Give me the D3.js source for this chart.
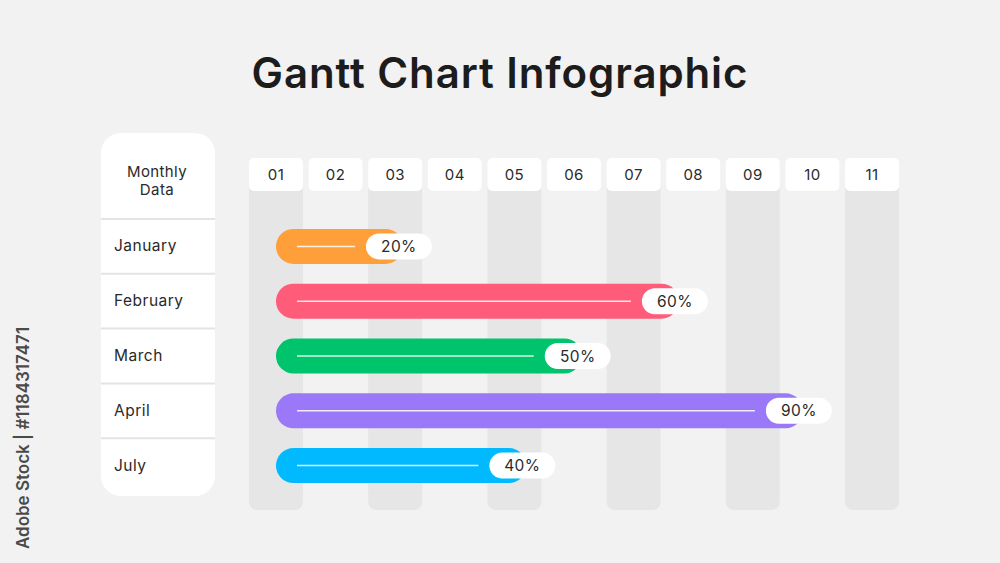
<!DOCTYPE html>
<html>
<head>
<meta charset="utf-8">
<script src="https://cdn.jsdelivr.net/npm/d3@7"></script>
<style>
  html, body { margin: 0; padding: 0; background: #f2f2f2; }
  svg { display: block; font-family: "Inter", "Noto Sans", sans-serif; }
</style>
</head>
<body>
<div id="chart"></div>
<script>
// columns across the top
const months = ["01", "02", "03", "04", "05", "06", "07", "08", "09", "10", "11"];

// rows
const tasks = ["January", "February", "March", "April", "July"];
const percents = [20, 60, 50, 90, 40];
// where each bar ends, in column units (bars start at column 1)
const startMonth = [1, 1, 1, 1, 1];
const endMonth = [3.13, 7.76, 6.13, 9.84, 5.2];
const colors = ["#ff9f3a", "#ff5c79", "#00c46b", "#9a78f8", "#00b9ff"];

const W = 1000, H = 563;

const svg = d3.select("#chart")
    .append("svg")
    .attr("width", W)
    .attr("height", H);

svg.append("rect")
    .attr("width", W)
    .attr("height", H)
    .attr("fill", "#f2f2f2");

// title
svg.append("text")
    .attr("x", 500)
    .attr("y", 88)
    .attr("text-anchor", "middle")
    .attr("font-size", 42)
    .attr("font-weight", 600)
    .attr("letter-spacing", 0.9)
    .attr("fill", "#1c1c1c")
    .text("Gantt Chart Infographic");

// vertical stock label on the left
svg.append("text")
    .attr("transform", "translate(29,438) rotate(-90)")
    .attr("text-anchor", "middle")
    .attr("font-size", 17)
    .attr("font-weight", 600)
    .attr("fill", "#4a4a4a")
    .text("Adobe Stock | #1184317471");

const xBand = d3.scaleBand()
    .domain(months)
    .range([249, 899])
    .paddingInner(0.095)
    .paddingOuter(0);

const xPos = d3.scaleLinear()
    .domain([1, months.length])
    .range([xBand(months[0]) + xBand.bandwidth() / 2,
            xBand(months[months.length - 1]) + xBand.bandwidth() / 2]);

const yBand = d3.scaleBand()
    .domain(tasks)
    .range([219, 493])
    .padding(0);

// grey stripes under odd columns
svg.selectAll(".stripe")
    .data(months.filter((d, i) => i % 2 === 0))
    .enter()
    .append("rect")
    .attr("class", "stripe")
    .attr("x", d => xBand(d))
    .attr("y", 175)
    .attr("width", xBand.bandwidth())
    .attr("height", 335)
    .attr("rx", 8)
    .attr("fill", "#e6e6e6");

// column header pills
const head = svg.selectAll(".head")
    .data(months)
    .enter()
    .append("g")
    .attr("class", "head");

head.append("rect")
    .attr("x", d => xBand(d))
    .attr("y", 158)
    .attr("width", xBand.bandwidth())
    .attr("height", 33)
    .attr("rx", 5)
    .attr("fill", "#ffffff");

head.append("text")
    .attr("x", d => xBand(d) + xBand.bandwidth() / 2)
    .attr("y", 180)
    .attr("text-anchor", "middle")
    .attr("font-size", 15)
    .attr("letter-spacing", 0.4)
    .attr("fill", "#2a2a2a")
    .text(d => d);

// left panel
svg.append("rect")
    .attr("x", 101)
    .attr("y", 133)
    .attr("width", 114)
    .attr("height", 363)
    .attr("rx", 20)
    .attr("fill", "#ffffff");

const headTitle = svg.append("text")
    .attr("x", 157)
    .attr("text-anchor", "middle")
    .attr("font-size", 15)
    .attr("letter-spacing", 0.4)
    .attr("fill", "#2a2a2a");
headTitle.append("tspan").attr("x", 157).attr("y", 177).text("Monthly");
headTitle.append("tspan").attr("x", 157).attr("y", 195).text("Data");

svg.selectAll(".divider")
    .data(tasks)
    .enter()
    .append("line")
    .attr("class", "divider")
    .attr("x1", 101)
    .attr("x2", 215)
    .attr("y1", d => yBand(d))
    .attr("y2", d => yBand(d))
    .attr("stroke", "#e4e4e4")
    .attr("stroke-width", 2);

svg.selectAll(".rowlabel")
    .data(tasks)
    .enter()
    .append("text")
    .attr("class", "rowlabel")
    .attr("x", 114)
    .attr("y", d => yBand(d) + yBand.bandwidth() / 2 + 5)
    .attr("font-size", 15.5)
    .attr("letter-spacing", 0.5)
    .attr("fill", "#2a2a2a")
    .text(d => d);

// bars
const barH = 35;
const rows = tasks.map((t, i) => ({
    task: t, pct: percents[i], start: startMonth[i], end: endMonth[i], color: colors[i]
}));

const bar = svg.selectAll(".bar")
    .data(rows)
    .enter()
    .append("g")
    .attr("class", "bar")
    .attr("transform", d => `translate(0,${yBand(d.task) + yBand.bandwidth() / 2})`);

bar.append("rect")
    .attr("x", d => xPos(d.start))
    .attr("y", -barH / 2)
    .attr("width", d => xPos(d.end) - xPos(d.start))
    .attr("height", barH)
    .attr("rx", barH / 2)
    .attr("fill", d => d.color);

bar.append("line")
    .attr("x1", d => xPos(d.start) + 21)
    .attr("x2", d => xPos(d.end) - 48)
    .attr("y1", 0)
    .attr("y2", 0)
    .attr("stroke", "#ffffff")
    .attr("stroke-opacity", 0.85)
    .attr("stroke-width", 1.5);

bar.append("rect")
    .attr("x", d => xPos(d.end) - 37)
    .attr("y", -13)
    .attr("width", 66)
    .attr("height", 26)
    .attr("rx", 13)
    .attr("fill", "#ffffff");

bar.append("text")
    .attr("x", d => xPos(d.end) - 4)
    .attr("y", 5.5)
    .attr("text-anchor", "middle")
    .attr("font-size", 15.5)
    .attr("letter-spacing", 0.4)
    .attr("fill", "#2a2a2a")
    .text(d => d.pct + "%");
</script>
</body>
</html>
